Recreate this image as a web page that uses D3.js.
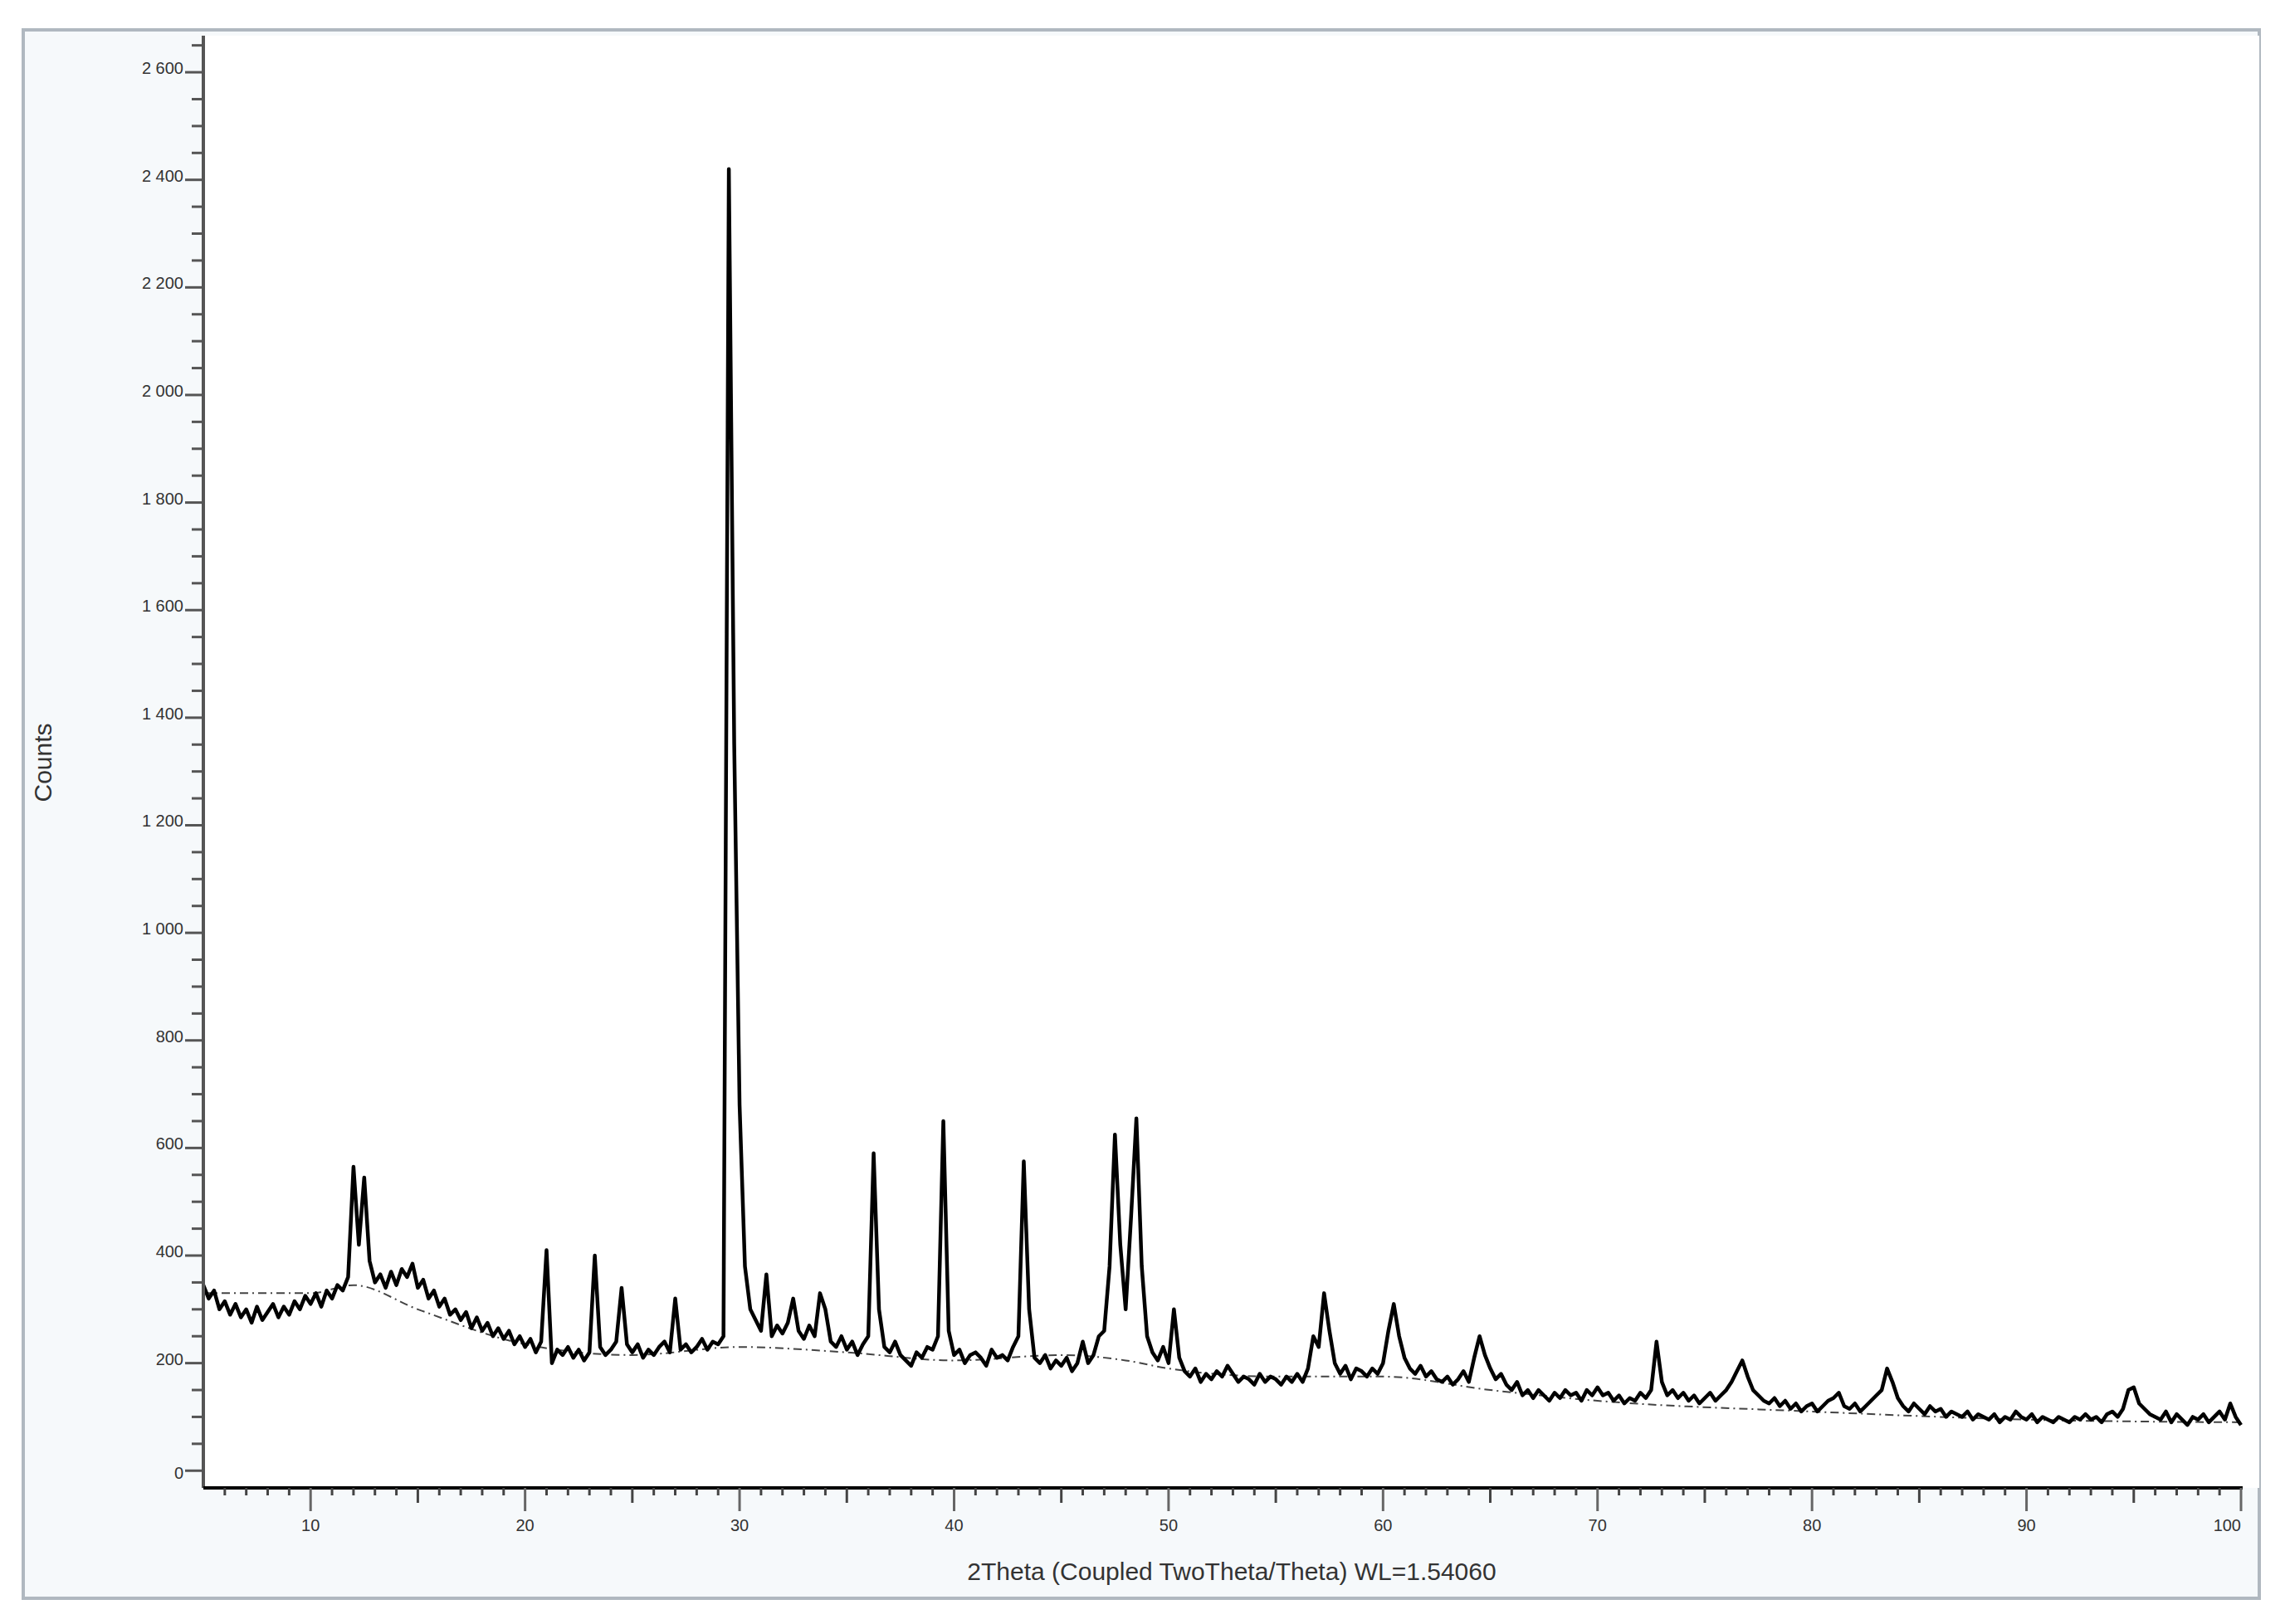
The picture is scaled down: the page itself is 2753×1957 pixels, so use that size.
<!DOCTYPE html>
<html><head><meta charset="utf-8">
<script src="https://cdn.jsdelivr.net/npm/d3@7"></script>
<style>body{margin:0;background:#fff}</style></head>
<body><svg id="c" width="2753" height="1957"></svg>
<script>
// 2theta scan: start 5, step 0.25
const scanStart = 5, scanStep = 0.25;
const counts = [
345,320,335,300, 315,290,310,285, 300,275,305,280, 295,310,285,305, 290,315,300,325,
310,330,305,335, 320,345,335,360, 565,420,545,390, 350,365,340,370, 345,375,360,385,
340,355,320,335, 305,320,290,300, 280,295,265,285, 260,275,250,265, 245,260,235,250,
230,245,220,240, 410,200,225,215, 230,210,225,205, 220,400,230,215, 225,240,340,235,
220,235,210,225, 215,230,240,220, 320,225,235,220, 230,245,225,240, 235,250,2420,1350,
680,380,300,280, 260,365,250,270, 255,275,320,260, 245,270,250,330, 300,240,230,250,
225,240,215,235, 250,590,300,230, 220,240,215,205, 195,220,210,230, 225,250,650,260,
215,225,200,215, 220,210,195,225, 210,215,205,230, 250,575,300,210, 200,215,190,205,
195,210,185,200, 240,200,215,250, 260,380,625,420, 300,470,655,380, 250,220,205,230,
200,300,210,185, 175,190,165,180, 170,185,175,195, 180,165,175,170, 160,180,165,175,
170,160,175,165, 180,165,190,250, 230,330,260,200, 180,195,170,190, 185,175,190,180,
200,260,310,250, 210,190,180,195, 175,185,170,165, 175,160,170,185, 165,210,250,215,
190,170,180,160, 150,165,140,150, 135,150,140,130, 145,135,150,140, 145,130,150,140,
155,140,145,130, 140,125,135,130, 145,135,150,240, 165,140,150,135, 145,130,140,125,
135,145,130,140, 150,165,185,205, 175,150,140,130, 125,135,120,130, 115,125,110,120,
125,110,120,130, 135,145,120,115, 125,110,120,130, 140,150,190,165, 135,120,110,125,
115,105,120,110, 115,100,110,105, 100,110,95,105, 100,95,105,90, 100,95,110,100,
95,105,90,100, 95,90,100,95, 90,100,95,105, 95,100,90,105, 110,100,115,150,
155,125,115,105, 100,95,110,90, 105,95,85,100, 95,105,90,100, 110,95,125,100, 85
];
const bgX = [5,10,12,15,20,25,30,35,40,45,48,50,55,60,65,70,80,90,100];
const bgY = [330,330,345,300,235,215,230,220,205,215,205,190,175,175,150,130,110,95,90];
const xTicks = [10,20,30,40,50,60,70,80,90,100];
const yTicks = [0,200,400,600,800,1000,1200,1400,1600,1800,2000,2200,2400,2600];

const svg = d3.select('#c');
svg.append('rect').attr('x',28).attr('y',36).attr('width',2694).attr('height',1890)
  .attr('fill','#f6f9fb').attr('stroke','#b0b8c0').attr('stroke-width',4);
const L=245,R=2700,T=43,B=1793;
const x = d3.scaleLinear().domain([5,100]).range([L,R]);
const y = d3.scaleLinear().domain([-32,2668]).range([B,T]);
svg.append('rect').attr('x',L).attr('y',T).attr('width',2722-L).attr('height',B-T).attr('fill','#fff');

const data = counts.map((c,i)=>[scanStart+i*scanStep,c]);
const bg = bgX.map((v,i)=>[v,bgY[i]]);
svg.append('path').datum(bg).attr('d',d3.line().x(d=>x(d[0])).y(d=>y(d[1])).curve(d3.curveMonotoneX)).attr('fill','none')
  .attr('stroke','#444').attr('stroke-width',2).attr('stroke-dasharray','10,5,2,5');
svg.append('path').datum(data).attr('d',d3.line().x(d=>x(d[0])).y(d=>y(d[1]))).attr('fill','none')
  .attr('stroke','#000').attr('stroke-width',4.5).attr('stroke-linejoin','round');

// Y axis
const ya = svg.append('g').attr('transform',`translate(${L},0)`);
ya.append('line').attr('x1',0).attr('x2',0).attr('y1',T).attr('y2',B).attr('stroke','#555').attr('stroke-width',4);
const minorY = d3.range(0,2700,50).filter(v=>v%200!==0);
ya.selectAll('.mi').data(minorY).join('line').attr('x1',-14).attr('x2',0).attr('y1',d=>y(d)).attr('y2',d=>y(d)).attr('stroke','#555').attr('stroke-width',3);
ya.selectAll('.ma').data(yTicks).join('line').attr('x1',-22).attr('x2',0).attr('y1',d=>y(d)).attr('y2',d=>y(d)).attr('stroke','#555').attr('stroke-width',3);
const fmt = v=> v>=1000 ? Math.floor(v/1000)+' '+String(v%1000).padStart(3,'0') : String(v);
ya.selectAll('text').data(yTicks).join('text').attr('x',-24).attr('y',d=>y(d)+ (d===0?10:2))
  .attr('text-anchor','end').attr('font-family','Liberation Sans, Arial').attr('font-size',20).attr('fill','#333').text(fmt);

// X axis
const xa = svg.append('g');
xa.append('line').attr('x1',L).attr('x2',R+2).attr('y1',B).attr('y2',B).attr('stroke','#000').attr('stroke-width',4);
const minorX = d3.range(6,100,1).filter(v=>v%10!==0);
xa.selectAll('.mi').data(minorX).join('line').attr('x1',d=>x(d)).attr('x2',d=>x(d)).attr('y1',B).attr('y2',d=>B+(d%5===0?18:9)).attr('stroke','#444').attr('stroke-width',3);
xa.selectAll('.ma').data(xTicks).join('line').attr('x1',d=>x(d)).attr('x2',d=>x(d)).attr('y1',B).attr('y2',B+28).attr('stroke','#666').attr('stroke-width',3);
xa.selectAll('text').data(xTicks).join('text').attr('x',d=>x(d)).attr('y',B+52).attr('text-anchor',d=>d===100?'end':'middle')
  .attr('font-family','Liberation Sans, Arial').attr('font-size',20).attr('fill','#333').text(d=>d);

svg.append('text').attr('x',1484).attr('y',1904).attr('text-anchor','middle').attr('font-family','Liberation Sans, Arial')
  .attr('font-size',30).attr('fill','#333').text('2Theta (Coupled TwoTheta/Theta) WL=1.54060');
svg.append('text').attr('transform','translate(62,919) rotate(-90)').attr('text-anchor','middle').attr('font-family','Liberation Sans, Arial')
  .attr('font-size',30).attr('fill','#333').text('Counts');
</script></body></html>
